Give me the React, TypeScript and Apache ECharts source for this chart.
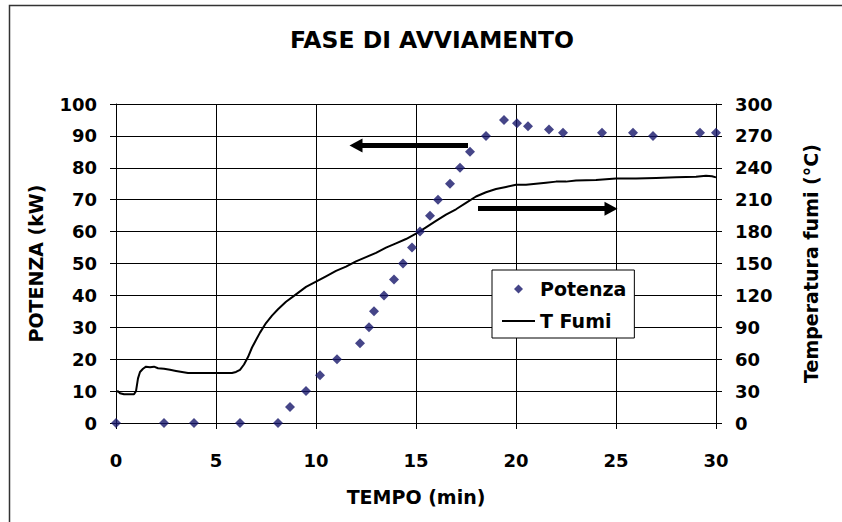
import React, { useEffect, useRef } from "react";
import * as echarts from "echarts";

const FONT = "DejaVu Sans";

const xTicks = [0, 5, 10, 15, 20, 25, 30];

// Potenza (kW) vs time (min)
const potenzaTime = [0, 2.4, 3.9, 6.2, 8.1, 8.7, 9.5, 10.2, 11.05, 12.2, 12.65, 12.9, 13.4, 13.9, 14.35, 14.8, 15.2, 15.7, 16.1, 16.7, 17.2, 17.7, 18.5, 19.4, 20.05, 20.6, 21.65, 22.35, 24.3, 25.85, 26.85, 29.2, 30];
const potenzaKW = [0, 0, 0, 0, 0, 5, 10, 15, 20, 25, 30, 35, 40, 45, 50, 55, 60, 65, 70, 75, 80, 85, 90, 95, 94, 93, 92, 91, 91, 91, 90, 91, 91];

// T Fumi (°C) vs time (min)
const fumiTime = [0, 0.1, 0.2, 0.4, 0.6, 0.9, 1.0, 1.1, 1.2, 1.35, 1.5, 1.7, 1.9, 2.1, 2.4, 2.7, 3.0, 3.3, 3.6, 4.0, 4.5, 5.0, 5.5, 5.8, 6.0, 6.2, 6.4, 6.6, 6.8, 7.0, 7.2, 7.5, 7.8, 8.1, 8.5, 9.0, 9.5, 10.0, 10.5, 11.0, 11.5, 12.0, 12.5, 13.0, 13.5, 14.0, 14.5, 15.0, 15.5, 16.0, 16.5, 17.0, 17.5, 18.0, 18.5, 19.0, 19.5, 20.0, 20.5, 21.0, 21.5, 22.0, 22.5, 23.0, 24.0, 25.0, 26.0, 27.0, 28.0, 29.0, 29.5, 29.8, 30];
const fumiTemp = [29, 30, 28, 27, 27, 27, 30, 42, 48, 51, 53, 52.5, 53, 51.5, 51, 50, 49, 48, 47, 47, 47, 47, 47, 47, 48, 50, 55, 62, 71, 78, 85, 94, 101, 107, 114, 121, 128, 133, 138, 143, 147, 152, 156, 160, 165, 169, 173, 178, 184, 190, 196, 201, 207, 213, 217, 220, 222, 224, 224, 225, 226, 227, 227, 228, 228.5, 230, 230, 230.5, 231, 231.5, 232.5, 232, 231];

// Annotation arrows (left-axis units): [fromX, fromY, toX, toY]
const arrowLeft = [17.6, 87, 12.0, 87];
const arrowRight = [18.1, 67.2, 24.75, 67.2];

const POT_COLOR = "#17176a";

export default function App() {
  const ref = useRef<HTMLDivElement>(null);
  useEffect(() => {
    if (!ref.current) return;
    const chart = echarts.init(ref.current, null, { renderer: "svg" });
    const labelStyle = { fontFamily: FONT, fontWeight: "bold", fontSize: 18, color: "#000" };
    const arrow = (a: number[]) => [
      { coord: [a[0], a[1]], symbol: "none" },
      { coord: [a[2], a[3]], symbol: "triangle", symbolSize: [14, 13] },
    ];
    chart.setOption({
      animation: false,
      backgroundColor: "#fff",
      title: {
        text: "FASE DI AVVIAMENTO",
        left: 432,
        textAlign: "center",
        top: 28,
        padding: 0,
        textStyle: { fontFamily: FONT, fontWeight: "bold", fontSize: 23.5, color: "#000" },
      },
      graphic: [
        {
          type: "rect",
          shape: { x: 9.5, y: 5.5, width: 900, height: 600 },
          style: { fill: "none", stroke: "#333", lineWidth: 1.5 },
          silent: true,
        },
      ],
      legend: {
        left: 492,
        top: 270,
        orient: "vertical",
        align: "left",
        borderColor: "#000",
        borderWidth: 1,
        backgroundColor: "#fff",
        padding: [9, 8, 7, 9],
        itemGap: 12,
        itemWidth: 33,
        itemHeight: 9,
        textStyle: { fontFamily: FONT, fontWeight: "bold", fontSize: 19, color: "#000", lineHeight: 20 },
        data: [
          {
            name: "Potenza",
            icon: "path://M0,4.5M33,4.5M16.5,0L21,4.5L16.5,9L12,4.5Z",
            itemStyle: { color: POT_COLOR },
          },
          { name: "T Fumi", itemStyle: { opacity: 0 } },
        ],
      },
      grid: { left: 116, right: 126, top: 104, bottom: 99 },
      xAxis: {
        type: "value",
        min: 0,
        max: 30,
        interval: 5,
        name: "TEMPO (min)",
        nameLocation: "middle",
        nameGap: 64,
        nameTextStyle: { fontFamily: FONT, fontWeight: "bold", fontSize: 19, color: "#000" },
        axisLine: { show: true, lineStyle: { color: "#000", width: 1 } },
        axisTick: { show: true, inside: false, length: 6, lineStyle: { color: "#000" } },
        axisLabel: { ...labelStyle, margin: 28, formatter: (v: number) => (xTicks.includes(v) ? String(v) : "") },
        splitLine: { show: true, lineStyle: { color: "#000", width: 1 } },
      },
      yAxis: [
        {
          type: "value",
          min: 0,
          max: 100,
          interval: 10,
          position: "left",
          name: "POTENZA (kW)",
          nameLocation: "middle",
          nameRotate: 90,
          nameGap: 71,
          nameTextStyle: { fontFamily: FONT, fontWeight: "bold", fontSize: 19, color: "#000" },
          axisLine: { show: true, lineStyle: { color: "#000", width: 1 } },
          axisTick: { show: true, inside: false, length: 6, lineStyle: { color: "#000" } },
          axisLabel: { ...labelStyle, margin: 19 },
          splitLine: { show: true, lineStyle: { color: "#000", width: 1 } },
        },
        {
          type: "value",
          min: 0,
          max: 300,
          interval: 30,
          position: "right",
          name: "Temperatura fumi (°C)",
          nameLocation: "middle",
          nameRotate: 90,
          nameGap: 85,
          nameTextStyle: { fontFamily: FONT, fontWeight: "bold", fontSize: 19, color: "#000" },
          axisLine: { show: true, lineStyle: { color: "#000", width: 1 } },
          axisTick: { show: true, inside: false, length: 6, lineStyle: { color: "#000" } },
          axisLabel: { ...labelStyle, margin: 19 },
          splitLine: { show: false },
        },
      ],
      series: [
        {
          name: "T Fumi",
          type: "line",
          yAxisIndex: 1,
          symbol: "none",
          smooth: false,
          lineStyle: { color: "#000", width: 2 },
          itemStyle: { color: "#000" },
          data: fumiTime.map((t, i) => [t, fumiTemp[i]]),
          z: 3,
        },
        {
          name: "Potenza",
          type: "scatter",
          yAxisIndex: 0,
          symbol: "diamond",
          symbolSize: 10,
          itemStyle: { color: POT_COLOR },
          data: potenzaTime.map((t, i) => [t, potenzaKW[i]]),
          z: 4,
          markLine: {
            silent: true,
            animation: false,
            label: { show: false },
            lineStyle: { color: "#000", width: 5, type: "solid" },
            itemStyle: { color: "#000" },
            emphasis: { disabled: true },
            data: [arrow(arrowLeft), arrow(arrowRight)],
          },
        },
      ],
    });
    return () => chart.dispose();
  }, []);
  return <div ref={ref} style={{ position: "absolute", left: 0, top: 0, width: 842, height: 522 }} />;
}
